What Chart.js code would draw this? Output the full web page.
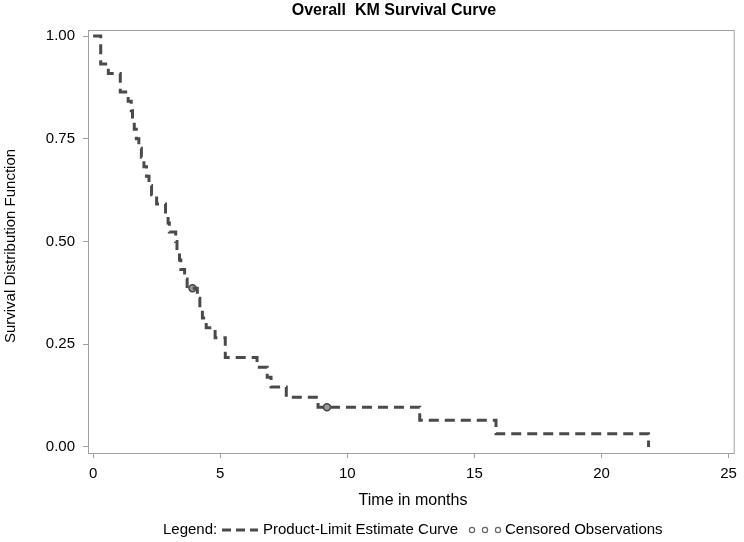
<!DOCTYPE html>
<html>
<head>
<meta charset="utf-8">
<script src="https://cdn.jsdelivr.net/npm/chart.js@4.4.1/dist/chart.umd.min.js"></script>
<style>
  html, body { margin: 0; padding: 0; background: #fff; }
  #wrap { position: relative; width: 744px; height: 542px; }
</style>
</head>
<body>
<div id="wrap"><canvas id="kmChart" width="744" height="542"></canvas></div>
<script>
// event times (months) and KM survival estimate after each time
const times = [0, 0.3, 0.6, 1.07, 1.38, 1.5, 1.55, 1.62, 1.7, 1.8, 1.9, 2.0, 2.1, 2.2, 2.3, 2.5,
  2.85, 2.95, 3.0, 3.25, 3.3, 3.4, 3.45, 3.6, 3.7, 4.1, 4.2, 4.3, 4.45, 4.8, 5.2, 6.45, 6.85,
  7.0, 7.6, 8.85, 12.85, 15.85, 21.85];
const survival = [1.0, 0.932, 0.909, 0.864, 0.841, 0.818, 0.795, 0.773, 0.75, 0.727, 0.705,
  0.682, 0.659, 0.636, 0.614, 0.591, 0.568, 0.545, 0.523, 0.5, 0.477, 0.455, 0.432, 0.409,
  0.386, 0.362, 0.338, 0.314, 0.29, 0.266, 0.218, 0.194, 0.17, 0.146, 0.121, 0.097, 0.065,
  0.032, 0.0];
// censored observations
const censorTimes = [3.91, 9.2];
const censorSurv = [0.386, 0.097];
// tick labels
const xTicks = [0, 5, 10, 15, 20, 25];
const yTicks = [0, 0.25, 0.5, 0.75, 1.0];

const chartTitle = 'Overall  KM Survival Curve';
const xTitle = 'Time in months';
const yTitle = 'Survival Distribution Function';
const FONT = '"Liberation Sans", Arial, sans-serif';
const lineColor = '#4a4a4a';

const curvePts = times.map((t, i) => ({ x: t, y: survival[i] }));
const censorPts = censorTimes.map((t, i) => ({ x: t, y: censorSurv[i] }));

const decorPlugin = {
  id: 'decor',
  afterDraw(chart) {
    const ctx = chart.ctx, a = chart.chartArea;
    ctx.save();
    // frame
    ctx.strokeStyle = '#a0a0a0';
    ctx.lineWidth = 1;
    ctx.strokeRect(a.left + 0.5, a.top + 0.5, a.right - a.left, a.bottom - a.top);
    // title
    ctx.fillStyle = '#000';
    ctx.font = 'bold 16px ' + FONT;
    ctx.textAlign = 'center';
    ctx.textBaseline = 'middle';
    ctx.fillText(chartTitle, 394, 11);
    // axis titles
    ctx.font = '16px ' + FONT;
    ctx.fillText(xTitle, 413, 501);
    ctx.save();
    ctx.translate(11, 246);
    ctx.rotate(-Math.PI / 2);
    ctx.font = '15px ' + FONT;
    ctx.fillText(yTitle, 0, 0);
    ctx.restore();
    // legend
    ctx.font = '15px ' + FONT;
    ctx.textAlign = 'left';
    const y = 530;
    ctx.fillText('Legend:', 163, y);
    ctx.strokeStyle = lineColor;
    ctx.lineWidth = 3;
    ctx.setLineDash([9, 5]);
    ctx.beginPath();
    ctx.moveTo(222, y); ctx.lineTo(258, y);
    ctx.stroke();
    ctx.setLineDash([]);
    ctx.fillText('Product-Limit Estimate Curve', 263, y);
    ctx.lineWidth = 1.2;
    ctx.strokeStyle = '#666';
    for (let i = 0; i < 3; i++) {
      ctx.beginPath();
      ctx.arc(472 + i * 13, y, 2.6, 0, Math.PI * 2);
      ctx.stroke();
    }
    ctx.fillText('Censored Observations', 505, y);
    ctx.restore();
  }
};

new Chart(document.getElementById('kmChart'), {
  type: 'scatter',
  data: {
    datasets: [
      {
        label: 'Product-Limit Estimate Curve',
        data: curvePts,
        showLine: true,
        stepped: 'before',
        borderColor: lineColor,
        borderWidth: 3,
        borderDash: [10, 6],
        borderCapStyle: 'butt',
        pointRadius: 0,
        fill: false
      },
      {
        label: 'Censored Observations',
        data: censorPts,
        showLine: false,
        pointStyle: 'circle',
        pointRadius: 3.5,
        borderWidth: 1.5,
        borderColor: '#444',
        backgroundColor: '#999'
      }
    ]
  },
  options: {
    responsive: false,
    animation: false,
    layout: { padding: { left: 0, top: 30, right: 4, bottom: 0 } },
    plugins: {
      legend: { display: false },
      title: { display: false },
      tooltip: { enabled: false }
    },
    scales: {
      x: {
        type: 'linear',
        min: -0.2,
        max: 25.2,
        afterBuildTicks: s => { s.ticks = xTicks.map(v => ({ value: v })); },
        afterFit: s => { s.height = 89; },
        grid: { drawOnChartArea: false, drawTicks: true, tickLength: 5, color: '#a0a0a0' },
        border: { display: true, color: '#a0a0a0' },
        ticks: { color: '#000', font: { family: FONT, size: 15 }, padding: 7, maxRotation: 0 }
      },
      y: {
        type: 'linear',
        min: -0.0146,
        max: 1.0146,
        afterBuildTicks: s => { s.ticks = yTicks.map(v => ({ value: v })); },
        afterFit: s => { s.width = 88; },
        grid: { drawOnChartArea: false, drawTicks: true, tickLength: 5, color: '#a0a0a0' },
        border: { display: true, color: '#a0a0a0' },
        ticks: {
          color: '#000', font: { family: FONT, size: 15 }, padding: 8,
          callback: v => v.toFixed(2)
        }
      }
    }
  },
  plugins: [decorPlugin]
});
</script>
</body>
</html>
